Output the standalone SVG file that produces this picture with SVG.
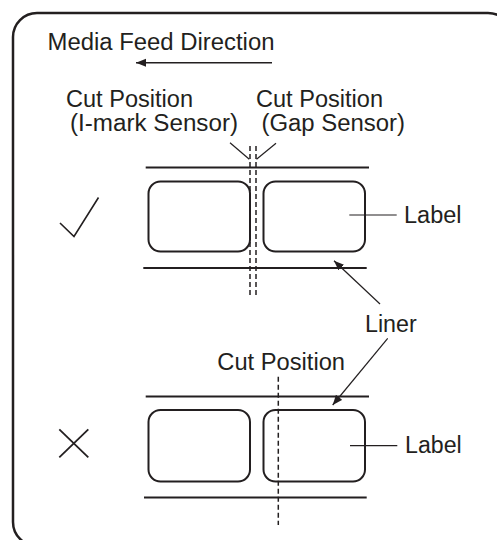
<svg xmlns="http://www.w3.org/2000/svg" width="497" height="540" viewBox="0 0 497 540">
  <style>
    .t { font-family: "Liberation Sans", Arial, sans-serif; font-size: 23.5px; fill: #231f20; }
    .lbl { fill: none; stroke: #231f20; stroke-width: 2; }
    .liner { stroke: #231f20; stroke-width: 2; fill: none; }
    .dash { stroke: #231f20; stroke-width: 1.5; stroke-dasharray: 5 3; fill: none; }
    .thin { stroke: #231f20; stroke-width: 1.2; fill: none; }
    .mark { stroke: #231f20; stroke-width: 1.8; fill: none; }
  </style>
  <defs>
    <marker id="ah" markerUnits="userSpaceOnUse" markerWidth="12" markerHeight="10" refX="10" refY="4" orient="auto">
      <path d="M0,0 L10,4 L0,8 Z" fill="#231f20"/>
    </marker>
  </defs>
  <rect width="497" height="540" fill="#ffffff"/>
  <g id="frame">
    <rect x="13" y="13" width="499" height="533" rx="24" ry="24" fill="none" stroke="#231f20" stroke-width="2.5"/>
  </g>
  <g id="feed-direction">
    <text class="t" x="47.5" y="49.5" textLength="227" lengthAdjust="spacingAndGlyphs">Media Feed Direction</text>
  </g>
  <g id="cut-imark">
    <text class="t" x="66" y="107" textLength="127" lengthAdjust="spacingAndGlyphs">Cut Position</text>
    <text class="t" x="70" y="130.5" textLength="168" lengthAdjust="spacingAndGlyphs">(I-mark Sensor)</text>
  </g>
  <g id="cut-gap">
    <text class="t" x="256" y="107" textLength="127" lengthAdjust="spacingAndGlyphs">Cut Position</text>
    <text class="t" x="261.5" y="130.5" textLength="143.5" lengthAdjust="spacingAndGlyphs">(Gap Sensor)</text>
  </g>
  <g id="check">
    <polyline class="thin" points="60,223 74,236.5 98.5,197.5" style="stroke-width:1.6"/>
  </g>
  <g id="band-good">
    <line class="liner" x1="145.7" y1="167.5" x2="369" y2="167.5"/>
    <line class="liner" x1="143.3" y1="268" x2="366.7" y2="268"/>
    <rect class="lbl" x="148.5" y="181.5" width="101.5" height="70" rx="12"/>
    <rect class="lbl" x="263.5" y="181.5" width="101.5" height="70" rx="12"/>
    <line class="dash" x1="250" y1="146" x2="250" y2="297"/>
    <line class="dash" x1="256" y1="146" x2="256" y2="297"/>
  </g>
  <g id="label-good">
    <text class="t" x="404" y="223" textLength="57.5" lengthAdjust="spacingAndGlyphs">Label</text>
  </g>
  <g id="liner">
    <text class="t" x="365" y="331.7" textLength="51.7" lengthAdjust="spacingAndGlyphs">Liner</text>
  </g>
  <g id="cut-bad">
    <text class="t" x="217.3" y="370" textLength="127.7" lengthAdjust="spacingAndGlyphs">Cut Position</text>
  </g>
  <g id="cross">
    <line class="mark" x1="59.3" y1="429.3" x2="88.3" y2="457.3"/>
    <line class="mark" x1="59.3" y1="457.3" x2="88.3" y2="429.3"/>
  </g>
  <g id="band-bad">
    <line class="liner" x1="145.7" y1="396.5" x2="369" y2="396.5"/>
    <line class="liner" x1="144" y1="497.5" x2="366.7" y2="497.5"/>
    <rect class="lbl" x="148.5" y="410" width="101.5" height="71.5" rx="12"/>
    <rect class="lbl" x="263.5" y="410" width="101.5" height="71.5" rx="12"/>
    <line class="dash" x1="278.3" y1="376.7" x2="278.3" y2="525"/>
  </g>
  <g id="label-bad">
    <text class="t" x="405" y="453.3" textLength="56.7" lengthAdjust="spacingAndGlyphs">Label</text>
  </g>
  <g id="connectors">
    <line class="thin" x1="272" y1="62.7" x2="136" y2="62.7" style="stroke-width:1.5" marker-end="url(#ah)"/>
    <line class="thin" x1="230" y1="142.7" x2="249.3" y2="159.3"/>
    <line class="thin" x1="276" y1="143.3" x2="256.5" y2="159.3"/>
    <line class="thin" x1="349.3" y1="215" x2="396.7" y2="215"/>
    <line class="thin" x1="350" y1="445.7" x2="397.3" y2="445.7"/>
    <line class="thin" x1="380" y1="304" x2="334" y2="260.7" marker-end="url(#ah)"/>
    <line class="thin" x1="387.7" y1="338.3" x2="332.7" y2="405" marker-end="url(#ah)"/>
  </g>
</svg>
